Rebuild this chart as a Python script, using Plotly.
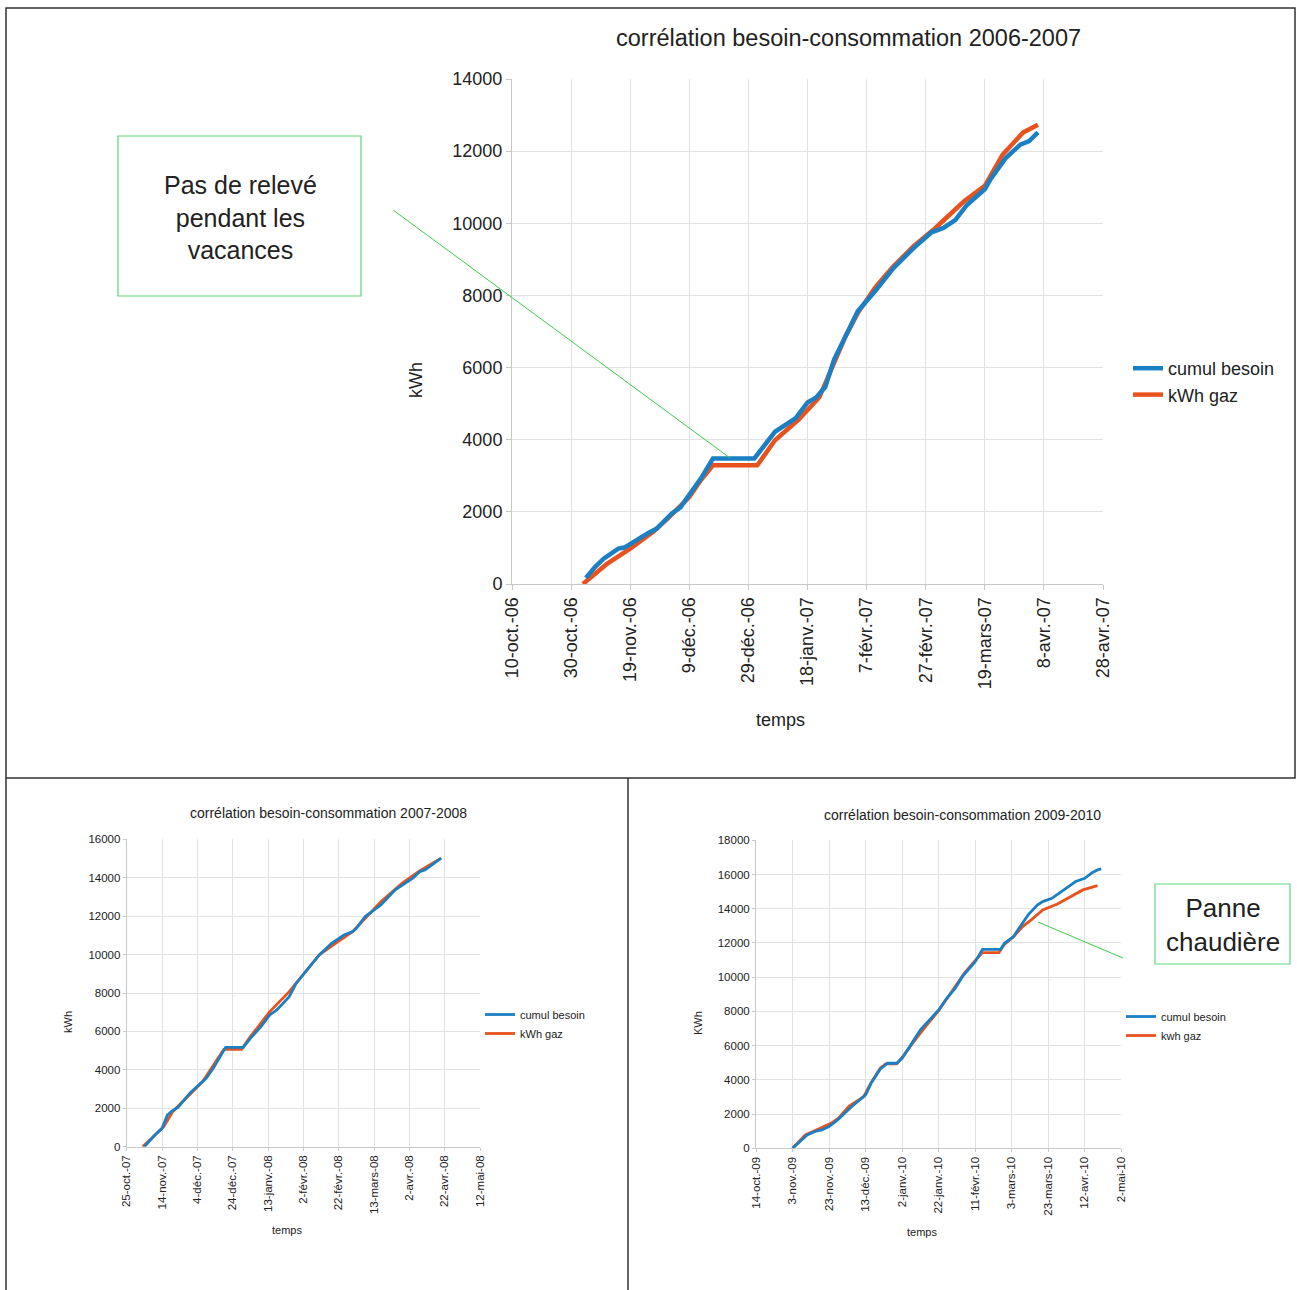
import plotly.graph_objects as go

# ---------------- DATA ----------------
# 2006-2007
d1_besoin_dates = ["2006-11-04","2006-11-07","2006-11-10","2006-11-15","2006-11-17","2006-11-22","2006-11-25",
                   "2006-11-28","2006-12-03","2006-12-06","2006-12-09","2006-12-13","2006-12-17","2006-12-31",
                   "2007-01-07","2007-01-14","2007-01-18","2007-01-21","2007-01-24","2007-01-27","2007-01-31",
                   "2007-02-04","2007-02-10","2007-02-16","2007-02-23","2007-03-01","2007-03-05","2007-03-09",
                   "2007-03-13","2007-03-19","2007-03-21","2007-03-26","2007-03-31","2007-04-03","2007-04-06"]
d1_besoin = [170, 460, 700, 980, 1010, 1270, 1410, 1535, 1950, 2125, 2460, 2935, 3480, 3480,
             4220, 4600, 5030, 5175, 5460, 6220, 6890, 7560, 8130, 8750, 9320, 9750, 9870, 10090,
             10515, 10945, 11230, 11800, 12180, 12280, 12520]
d1_gaz_dates = ["2006-11-03","2006-11-11","2006-11-19","2006-11-27","2006-12-02","2006-12-09","2006-12-13",
                "2006-12-17","2007-01-01","2007-01-07","2007-01-15","2007-01-22","2007-01-27","2007-01-31",
                "2007-02-04","2007-02-10","2007-02-16","2007-02-23","2007-03-02","2007-03-12","2007-03-19",
                "2007-03-25","2007-04-01","2007-04-06"]
d1_gaz = [0, 550, 980, 1460, 1840, 2410, 2890, 3290, 3290, 3985, 4560, 5175, 6130, 6890,
          7510, 8230, 8800, 9370, 9850, 10610, 11040, 11900, 12520, 12730]
d1_tickvals = ["2006-10-10","2006-10-30","2006-11-19","2006-12-09","2006-12-29","2007-01-18",
               "2007-02-07","2007-02-27","2007-03-19","2007-04-08","2007-04-28"]
d1_ticktext = ["10-oct.-06","30-oct.-06","19-nov.-06","9-déc.-06","29-déc.-06","18-janv.-07",
               "7-févr.-07","27-févr.-07","19-mars-07","8-avr.-07","28-avr.-07"]
d1_yticks = [0, 2000, 4000, 6000, 8000, 10000, 12000, 14000]

# 2007-2008
d2_besoin_dates = ["2007-11-04","2007-11-10","2007-11-14","2007-11-17","2007-11-20","2007-11-23","2007-11-30",
                   "2007-12-05","2007-12-09","2007-12-13","2007-12-20","2007-12-30","2008-01-03","2008-01-09",
                   "2008-01-14","2008-01-18","2008-01-25","2008-01-29","2008-02-04","2008-02-11","2008-02-18",
                   "2008-02-25","2008-03-01","2008-03-03","2008-03-08","2008-03-13","2008-03-17","2008-03-25",
                   "2008-04-01","2008-04-04","2008-04-08","2008-04-11","2008-04-20"]
d2_besoin = [0, 608, 955, 1650, 1875, 2050, 2810, 3210, 3560, 4080, 5170, 5170, 5640, 6250,
             6860, 7120, 7810, 8510, 9200, 9980, 10590, 11020, 11200, 11370, 11980, 12330, 12590, 13370,
             13800, 13980, 14320, 14410, 15020]
d2_gaz_dates = ["2007-11-03","2007-11-15","2007-11-20","2007-12-01","2007-12-07","2007-12-19","2007-12-29",
                "2008-01-03","2008-01-14","2008-01-25","2008-02-04","2008-02-11","2008-02-19","2008-03-01",
                "2008-03-09","2008-03-17","2008-03-29","2008-04-08","2008-04-20"]
d2_gaz = [0, 1040, 1820, 2860, 3390, 5070, 5070, 5730, 7030, 8070, 9200, 9980, 10500, 11200,
          11980, 12760, 13720, 14370, 15020]
d2_tickvals = ["2007-10-25","2007-11-14","2007-12-04","2007-12-24","2008-01-13","2008-02-02",
               "2008-02-22","2008-03-13","2008-04-02","2008-04-22","2008-05-12"]
d2_ticktext = ["25-oct.-07","14-nov.-07","4-déc.-07","24-déc.-07","13-janv.-08","2-févr.-08",
               "22-févr.-08","13-mars-08","2-avr.-08","22-avr.-08","12-mai-08"]
d2_yticks = [0, 2000, 4000, 6000, 8000, 10000, 12000, 14000, 16000]

# 2009-2010
d3_besoin_dates = ["2009-11-03","2009-11-07","2009-11-11","2009-11-16","2009-11-19","2009-11-23","2009-11-28",
                   "2009-12-05","2009-12-10","2009-12-13","2009-12-16","2009-12-21","2009-12-25","2009-12-30",
                   "2010-01-02","2010-01-06","2010-01-12","2010-01-17","2010-01-22","2010-01-26","2010-01-31",
                   "2010-02-04","2010-02-08","2010-02-11","2010-02-15","2010-02-25","2010-02-27","2010-03-04",
                   "2010-03-07","2010-03-12","2010-03-17","2010-03-20","2010-03-25","2010-03-29","2010-04-04",
                   "2010-04-07","2010-04-12","2010-04-16","2010-04-19","2010-04-21"]
d3_besoin = [0, 390, 780, 1010, 1070, 1270, 1690, 2400, 2820, 3120, 3800, 4620, 4970, 4970,
             5260, 5940, 6920, 7500, 8080, 8710, 9350, 10030, 10520, 10910, 11630, 11630, 11980, 12370,
             12860, 13640, 14220, 14420, 14610, 14900, 15330, 15590, 15780, 16110, 16270, 16330]
d3_gaz_dates = ["2009-11-03","2009-11-10","2009-11-16","2009-11-24","2009-11-28","2009-12-04","2009-12-12",
                "2009-12-16","2009-12-21","2009-12-24","2009-12-30","2010-01-03","2010-01-08","2010-01-14",
                "2010-01-22","2010-01-30","2010-02-05","2010-02-10","2010-02-15","2010-02-24","2010-02-27",
                "2010-03-04","2010-03-09","2010-03-14","2010-03-20","2010-03-28","2010-04-04","2010-04-11",
                "2010-04-19"]
d3_gaz = [0, 780, 1070, 1460, 1750, 2470, 3020, 3840, 4680, 4930, 4930, 5450, 6170, 7010,
          8040, 9250, 10230, 10850, 11440, 11440, 11920, 12370, 12960, 13380, 13930, 14280, 14710, 15100,
          15350]
d3_tickvals = ["2009-10-14","2009-11-03","2009-11-23","2009-12-13","2010-01-02","2010-01-22",
               "2010-02-11","2010-03-03","2010-03-23","2010-04-12","2010-05-02"]
d3_ticktext = ["14-oct.-09","3-nov.-09","23-nov.-09","13-déc.-09","2-janv.-10","22-janv.-10",
               "11-févr.-10","3-mars-10","23-mars-10","12-avr.-10","2-mai-10"]
d3_yticks = [0, 2000, 4000, 6000, 8000, 10000, 12000, 14000, 16000, 18000]

# --------------- LAYOUT HELPERS ---------------
W, H = 1297, 1290
def px(x): return x / W
def py(y): return 1 - y / H

BLUE = "#1b7fc4"
RED = "#e8521f"
GRID = "#e2e2e2"
AXIS = "#c8c8c8"
TXT = "#222222"
FONT = "Liberation Sans"
GREEN_BOX = "#5fd67c"
GREEN_LINE = "#3dcc4a"

fig = go.Figure()

def add_pair(xa, ya, bd, bv, gd, gv, lw, leg, gazname):
    fig.add_trace(go.Scatter(x=gd, y=gv, mode="lines", name=gazname,
                             line=dict(color=RED, width=lw), xaxis=xa, yaxis=ya,
                             legend=leg, legendrank=2))
    fig.add_trace(go.Scatter(x=bd, y=bv, mode="lines", name="cumul besoin",
                             line=dict(color=BLUE, width=lw), xaxis=xa, yaxis=ya,
                             legend=leg, legendrank=1))

add_pair("x", "y", d1_besoin_dates, d1_besoin, d1_gaz_dates, d1_gaz, 4.5, "legend", "kWh gaz")
add_pair("x2", "y2", d2_besoin_dates, d2_besoin, d2_gaz_dates, d2_gaz, 2.8, "legend2", "kWh gaz")
add_pair("x3", "y3", d3_besoin_dates, d3_besoin, d3_gaz_dates, d3_gaz, 2.8, "legend3", "kwh gaz")

def xaxis_cfg(dom, tv, tt, fs, anchor):
    return dict(domain=dom, anchor=anchor, type="date", range=[tv[0], tv[-1]],
                tickmode="array", tickvals=tv, ticktext=tt, tickangle=-90,
                tickfont=dict(family=FONT, size=fs, color=TXT),
                showgrid=True, gridcolor=GRID, gridwidth=1,
                showline=True, linecolor=AXIS, linewidth=1, mirror=False,
                ticks="outside", ticklen=5 if fs > 14 else 3, tickcolor=AXIS, zeroline=False,
                automargin=False)

def yaxis_cfg(dom, yt, fs, anchor):
    return dict(domain=dom, anchor=anchor, range=[yt[0], yt[-1]], tickmode="array",
                tickvals=yt, ticktext=[str(v) for v in yt],
                tickfont=dict(family=FONT, size=fs, color=TXT),
                showgrid=True, gridcolor=GRID, gridwidth=1,
                showline=True, linecolor=AXIS, linewidth=1,
                ticks="outside", ticklen=5 if fs > 14 else 3, tickcolor=AXIS, zeroline=False,
                automargin=False)

fig.update_layout(
    width=W, height=H, margin=dict(l=0, r=0, t=0, b=0, pad=0, autoexpand=False),
    paper_bgcolor="white", plot_bgcolor="white",
    font=dict(family=FONT, color=TXT),
    xaxis=xaxis_cfg([px(512), px(1103)], d1_tickvals, d1_ticktext, 18, "y"),
    yaxis=yaxis_cfg([py(584), py(79)], d1_yticks, 18, "x"),
    xaxis2=xaxis_cfg([px(126.7), px(480)], d2_tickvals, d2_ticktext, 11.5, "y2"),
    yaxis2=yaxis_cfg([py(1146.7), py(839.3)], d2_yticks, 11.5, "x2"),
    xaxis3=xaxis_cfg([px(756), px(1121.3)], d3_tickvals, d3_ticktext, 11.5, "y3"),
    yaxis3=yaxis_cfg([py(1148.3), py(840.3)], d3_yticks, 11.5, "x3"),
    legend=dict(x=px(1128), y=py(350), xanchor="left", yanchor="top",
                font=dict(family=FONT, size=18, color=TXT), bgcolor="rgba(0,0,0,0)",
                itemwidth=30, tracegroupgap=0),
    legend2=dict(x=px(480), y=py(1000), xanchor="left", yanchor="top",
                 font=dict(family=FONT, size=11, color=TXT), bgcolor="rgba(0,0,0,0)",
                 itemwidth=30, tracegroupgap=0),
    legend3=dict(x=px(1121), y=py(1002), xanchor="left", yanchor="top",
                 font=dict(family=FONT, size=11, color=TXT), bgcolor="rgba(0,0,0,0)",
                 itemwidth=30, tracegroupgap=0),
    showlegend=True,
)

def txt(x, y, s, size, angle=0):
    fig.add_annotation(x=px(x), y=py(y), xref="paper", yref="paper", text=s,
                       showarrow=False, textangle=angle, xanchor="center", yanchor="middle",
                       font=dict(family=FONT, size=size, color=TXT))

# titles & axis labels
txt(849, 38, "corrélation besoin-consommation 2006-2007", 23.5)
txt(416, 380, "kWh", 18, -90)
txt(780, 720, "temps", 18)
txt(328, 813, "corrélation besoin-consommation 2007-2008", 14)
txt(68, 1022, "kWh", 11, -90)
txt(287, 1230, "temps", 11)
txt(963, 815, "corrélation besoin-consommation 2009-2010", 14)
txt(698, 1023, "KWh", 11, -90)
txt(922, 1232, "temps", 11)

# callout boxes
fig.add_shape(type="rect", xref="paper", yref="paper", x0=px(118), x1=px(361), y0=py(296), y1=py(136),
              line=dict(color=GREEN_BOX, width=1.2), fillcolor="white")
txt(240, 217, "Pas de relevé<br>pendant les<br>vacances", 25)
fig.add_shape(type="line", xref="paper", yref="paper", x0=px(393), y0=py(210), x1=px(730), y1=py(458),
              line=dict(color=GREEN_LINE, width=1))

fig.add_shape(type="rect", xref="paper", yref="paper", x0=px(1155), x1=px(1290), y0=py(964), y1=py(884),
              line=dict(color=GREEN_BOX, width=1.2), fillcolor="white")
txt(1223, 925, "Panne<br>chaudière", 26)
fig.add_shape(type="line", xref="paper", yref="paper", x0=px(1038), y0=py(922), x1=px(1123), y1=py(958),
              line=dict(color=GREEN_LINE, width=1))

# panel borders
BORDER = dict(color="#333333", width=1.5)
fig.add_shape(type="rect", xref="paper", yref="paper", x0=px(6), x1=px(1295), y0=py(778), y1=py(8),
              line=BORDER)
fig.add_shape(type="line", xref="paper", yref="paper", x0=px(6), x1=px(6), y0=py(778), y1=py(1290),
              line=BORDER)
fig.add_shape(type="line", xref="paper", yref="paper", x0=px(628), x1=px(628), y0=py(778), y1=py(1290),
              line=BORDER)

fig.write_html("out.html")
